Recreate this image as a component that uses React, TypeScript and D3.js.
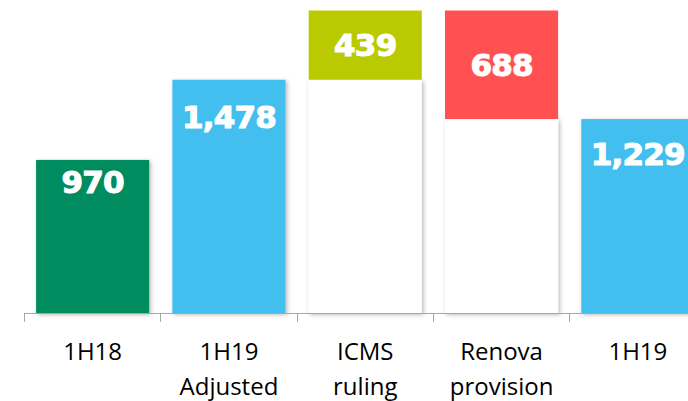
import React from "react";
import * as d3 from "d3";

const categories: string[][] = [["1H18"], ["1H19", "Adjusted"], ["ICMS", "ruling"], ["Renova", "provision"], ["1H19"]];
const baseValues: number[] = [0, 0, 1478, 1229, 0];
const barValues: number[] = [970, 1478, 439, 688, 1229];
const barKinds: string[] = ["total", "total", "increase", "decrease", "total"];
const barColors: string[] = ["#028C5F", "#43BFEF", "#B9CB00", "#FF5151", "#43BFEF"];
const labels: string[] = ["970", "1,478", "439", "688", "1,229"];
const labelNudge: number[] = [33, 48, 0, 0, 46];

const W = 688;
const H = 401;

const valueStyle: React.CSSProperties = {
  fontFamily: "DejaVu Sans",
  fontWeight: 700,
  fontSize: 31,
  letterSpacing: -0.8,
};

export default function App() {
  const x = d3
    .scaleBand<number>()
    .domain(d3.range(categories.length))
    .range([24.5, 706])
    .paddingInner(0.17)
    .paddingOuter(0.085);
  const y = d3.scaleLinear().domain([0, 1917]).range([313, 10.5]);
  const step = x.step();
  const start = 24;
  const ticks = d3.range(categories.length + 1).map((i) => start + i * step);

  return (
    <svg
      width={W}
      height={H}
      style={{ position: "absolute", left: 0, top: 0, display: "block", background: "#fff" }}
    >
      <defs>
        <filter id="sh" x="-20%" y="-20%" width="140%" height="140%">
          <feDropShadow dx="1.5" dy="1.5" stdDeviation="2" floodColor="#000" floodOpacity="0.3" />
        </filter>
      </defs>
      {categories.map((_, i) => {
        const bx = x(i)!;
        const bw = x.bandwidth();
        const base = baseValues[i];
        const v = barValues[i];
        const segTop = base + v;
        const els: React.ReactNode[] = [];
        if (barKinds[i] !== "total") {
          els.push(
            <rect key="w" x={bx} y={y(base)} width={bw} height={y(0) - y(base)} fill="#fff" filter="url(#sh)" />
          );
          els.push(
            <rect key="c" x={bx} y={y(segTop)} width={bw} height={y(base) - y(segTop)} fill={barColors[i]} />
          );
          const cy = (y(segTop) + y(base)) / 2;
          els.push(
            <text key="t" x={bx + bw / 2} y={cy} dy="0.36em" textAnchor="middle" fill="#fff"
              stroke="#fff" strokeWidth={1.1} style={valueStyle}>
              {labels[i]}
            </text>
          );
        } else {
          els.push(
            <rect key="c" x={bx} y={y(v)} width={bw} height={y(0) - y(v)} fill={barColors[i]} filter="url(#sh)" />
          );
          els.push(
            <text key="t" x={bx + bw / 2} y={y(v) + labelNudge[i]} textAnchor="middle" fill="#fff"
              stroke="#fff" strokeWidth={1.1} style={valueStyle}>
              {labels[i]}
            </text>
          );
        }
        return <g key={i}>{els}</g>;
      })}
      <line x1={start} x2={W + 20} y1={313.5} y2={313.5} stroke="#A6A6A6" strokeWidth={1} />
      {ticks.map((t, i) => (
        <line key={i} x1={Math.round(t) + 0.5} x2={Math.round(t) + 0.5} y1={313} y2={322} stroke="#A6A6A6" strokeWidth={1} />
      ))}
      {categories.map((lines, i) => (
        <text key={i} textAnchor="middle" fill="#000"
          style={{ fontFamily: "Open Sans", fontSize: 24 }}>
          {lines.map((l, j) => (
            <tspan key={j} x={x(i)! + x.bandwidth() / 2} y={360 + j * 35}>{l}</tspan>
          ))}
        </text>
      ))}
    </svg>
  );
}
